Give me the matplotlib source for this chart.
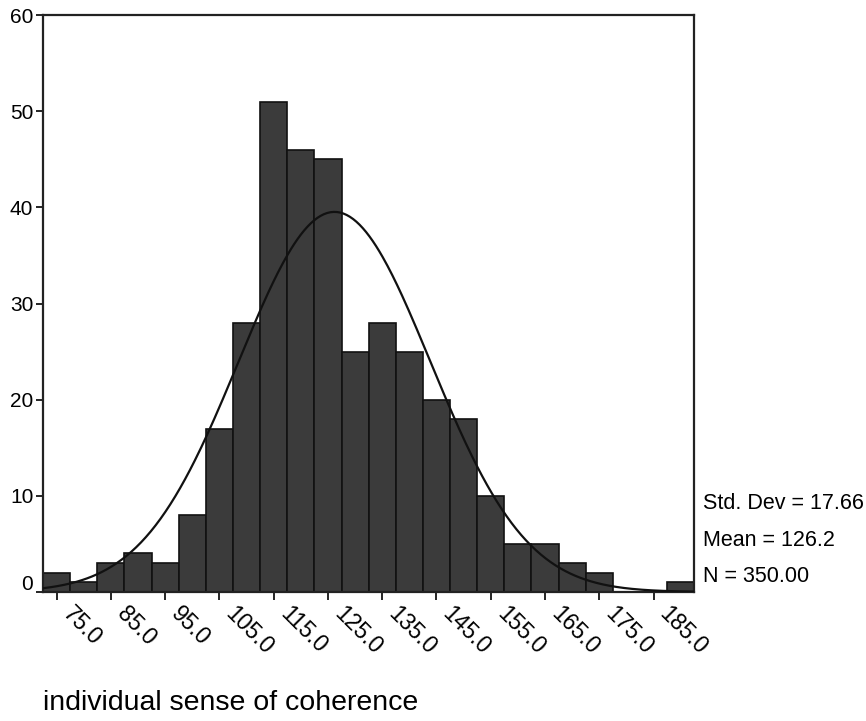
import numpy as np
import matplotlib
matplotlib.use('Agg')
import matplotlib.pyplot as plt
from matplotlib.transforms import ScaledTranslation

# histogram of individual sense of coherence, bin width 5
bin_edges = np.arange(72.5, 193.0, 5.0)
counts = [2, 1, 3, 4, 3, 8, 17, 28, 51, 46, 45, 25, 28, 25, 20, 18, 10, 5, 5, 3, 2, 0, 0, 1]
tick_vals = [75, 85, 95, 105, 115, 125, 135, 145, 155, 165, 175, 185]
std_dev = 17.66
mean = 126.2
n = 350

plt.rcParams['font.family'] = ['Liberation Sans', 'DejaVu Sans']

fig = plt.figure(figsize=(8.66, 7.21), dpi=100)
ax = fig.add_axes([0.0497, 0.179, 0.752, 0.8])

ax.bar(bin_edges[:-1], counts, width=5.0, align='edge',
       color='#3b3b3b', edgecolor='#111111', linewidth=1.2, zorder=2)

# normal curve from the reported mean / sd, scaled to counts
xs = np.linspace(bin_edges[0], bin_edges[-1], 400)
ys = n * 5.0 / (std_dev * np.sqrt(2 * np.pi)) * np.exp(-0.5 * ((xs - mean) / std_dev) ** 2)
ax.plot(xs, ys, color='#111111', linewidth=1.6, zorder=3)

ax.set_xlim(bin_edges[0], bin_edges[-1])
ax.set_ylim(0, 60)
ax.set_yticks(range(0, 61, 10))
ax.set_xticks(tick_vals)
ax.set_xticklabels(['%.1f' % v for v in tick_vals], rotation=-45,
                   ha='left', va='center', rotation_mode='anchor', fontsize=16.5)
ax.tick_params(axis='y', labelsize=15, length=5, width=1.2, pad=2)
ax.tick_params(axis='x', length=6, width=1.2, pad=7)
for s in ax.spines.values():
    s.set_linewidth(1.6)
    s.set_color('#222222')

# labels start a bit right of their ticks
for lbl in ax.get_xticklabels():
    lbl.set_transform(lbl.get_transform() + ScaledTranslation(7 / 72, 0, fig.dpi_scale_trans))

# the "0" label sits a little above its tick in the original
lbl0 = ax.get_yticklabels()[0]
lbl0.set_transform(lbl0.get_transform() + ScaledTranslation(0, 7 / 72, fig.dpi_scale_trans))

fig.text(0.812, 0.302, 'Std. Dev = 17.66', fontsize=15.5, va='center')
fig.text(0.812, 0.251, 'Mean = 126.2', fontsize=15.5, va='center')
fig.text(0.812, 0.200, 'N = 350.00', fontsize=15.5, va='center')

fig.text(0.0497, 0.025, 'individual sense of coherence', fontsize=20.5, va='center')

plt.savefig('out.png', dpi=100)
